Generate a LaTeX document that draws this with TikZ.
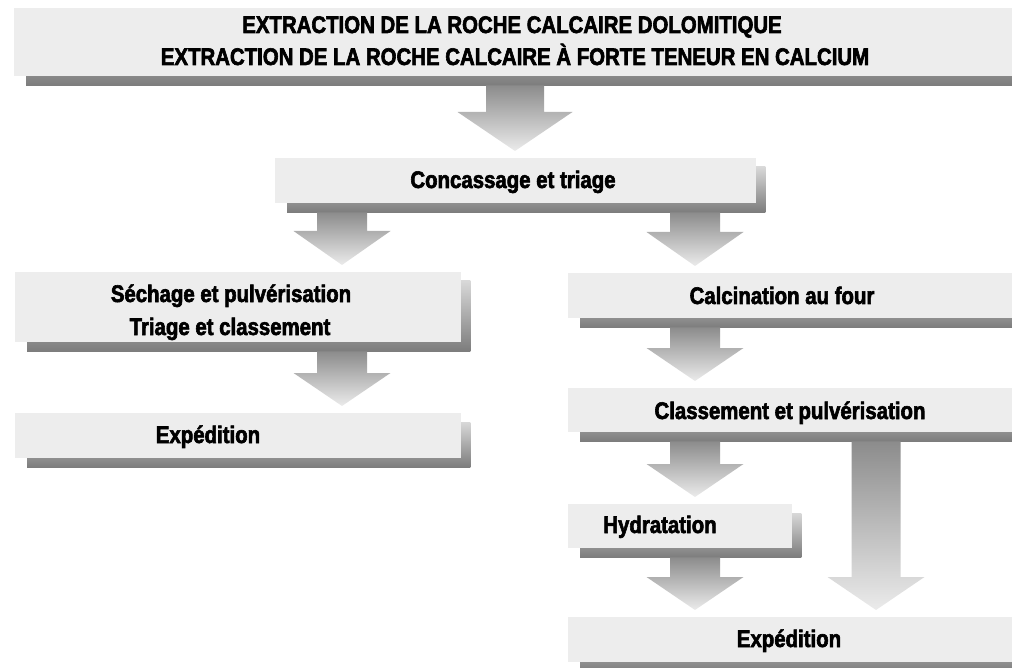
\documentclass[tikz,border=0pt]{standalone}
\usepackage{fontspec}
\setmainfont{Liberation Sans}[FakeStretch=0.85,BoldFeatures={FakeBold=2.5}]
\usetikzlibrary{calc,backgrounds}
\definecolor{boxfill}{HTML}{EDEDED}
\definecolor{shtop}{HTML}{D8D8D8}
\definecolor{shbot}{HTML}{7C7C7C}
\definecolor{artop}{HTML}{8C8C8C}
\definecolor{arbot}{HTML}{EBEBEB}
\tikzset{
  box/.style={rectangle, fill=boxfill, inner sep=0pt, anchor=north west},
  lbl/.style={font=\fontsize{24}{31.5}\selectfont\bfseries, inner sep=0pt, text=black, anchor=base},
}
\newcommand\boxshadow[1]{%
  \shade[top color=shtop,bottom color=shbot] ($(#1.north west)+(12,9)$) rectangle ($(#1.south east)+(9,9)$);}
% #1 x, #2 source node, #3 target node, #4 stem half width, #5 head half width, #6 head height, #7 name
\newcommand\blockarrow[7]{%
  \coordinate (#7a) at (#1,0 |- #2.south);
  \coordinate (#7b) at (#1,0 |- #3.north);
  \coordinate (#7s) at ($(#7a)+(0,9)$);
  \coordinate (#7e) at ($(#7b)+(0,-7)$);
  \shade[top color=artop,bottom color=arbot]
    ($(#7s)+(-#4,0)$) -- ($(#7s)+(#4,0)$) -- ($(#7e)+(#4,-#6)$) -- ($(#7e)+(#5,-#6)$)
    -- (#7e) -- ($(#7e)+(-#5,-#6)$) -- ($(#7e)+(-#4,-#6)$) -- cycle;}
\begin{document}
\begin{tikzpicture}[x=1pt,y=-1pt]
\useasboundingbox (0,0) rectangle (1012,668);
% boxes
\node[box, minimum width=1010pt, minimum height=68pt] (top) at (14,8) {};
\node[box, minimum width=481pt, minimum height=45pt] (conc) at (275,158) {};
\node[box, minimum width=446pt, minimum height=70pt] (sech) at (15,272) {};
\node[box, minimum width=446pt, minimum height=45pt] (expl) at (15,413) {};
\node[box, minimum width=450pt, minimum height=45pt] (calc) at (568,273) {};
\node[box, minimum width=450pt, minimum height=44pt] (clas) at (568,388) {};
\node[box, minimum width=224pt, minimum height=44pt] (hydr) at (568,504) {};
\node[box, minimum width=450pt, minimum height=45pt] (expr) at (568,617) {};
\begin{scope}[on background layer]
  \boxshadow{top}\boxshadow{conc}\boxshadow{sech}\boxshadow{expl}
  \boxshadow{calc}\boxshadow{clas}\boxshadow{hydr}\boxshadow{expr}
\end{scope}
% labels
\node[lbl] (t1) at (512,33) {EXTRACTION DE LA ROCHE CALCAIRE DOLOMITIQUE};
\node[lbl] (t2) at (515,65) {EXTRACTION DE LA ROCHE CALCAIRE À FORTE TENEUR EN CALCIUM};
\node[lbl] (tconc) at (513,188) {Concassage et triage};
\node[lbl] (tsech1) at (231,302) {Séchage et pulvérisation};
\node[lbl] (tsech2) at (230,335) {Triage et classement};
\node[lbl] (texpl) at (208,443) {Expédition};
\node[lbl] (tcalc) at (782,304) {Calcination au four};
\node[lbl] (tclas) at (790,419) {Classement et pulvérisation};
\node[lbl] (thydr) at (660,533) {Hydratation};
\node[lbl] (texpr) at (789,647) {Expédition};
% arrows
\blockarrow{515}{top}{conc}{29}{57.5}{39}{A}
\blockarrow{342}{conc}{sech}{25}{48.5}{34}{B}
\blockarrow{695}{conc}{calc}{25}{48.5}{34}{C}
\blockarrow{342}{sech}{expl}{25}{48.5}{33}{D}
\blockarrow{695}{calc}{clas}{25}{48.5}{33}{E}
\blockarrow{695}{clas}{hydr}{25}{48.5}{33}{F}
\blockarrow{695}{hydr}{expr}{25}{48.5}{33}{G}
\blockarrow{876}{clas}{expr}{24.5}{48.5}{33}{H}
\end{tikzpicture}
\end{document}
